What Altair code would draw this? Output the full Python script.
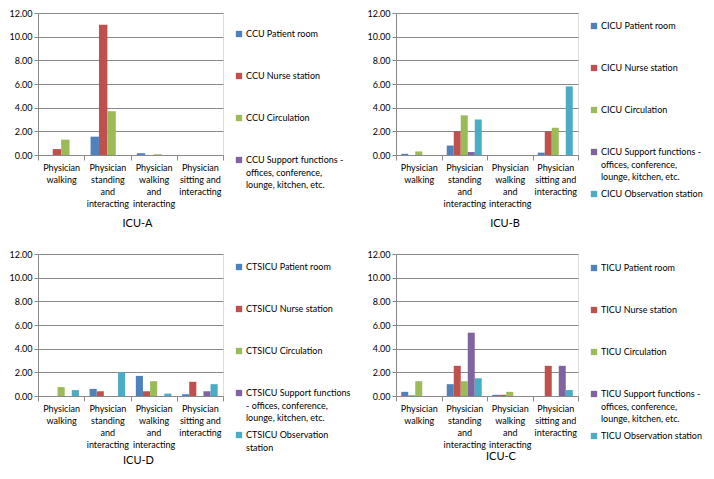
import altair as alt
import pandas as pd

# ---------------- data ----------------
categories = [
    "Physician walking",
    "Physician standing and interacting",
    "Physician walking and interacting",
    "Physician sitting and interacting",
]
category_lines = [
    ["Physician", "walking"],
    ["Physician", "standing", "and", "interacting"],
    ["Physician", "walking", "and", "interacting"],
    ["Physician", "sitting and", "interacting"],
]
series = ["Patient room", "Nurse station", "Circulation", "Support functions", "Observation station"]
colors = ["#4F81BD", "#C0504D", "#9BBB59", "#8064A2", "#4BACC6"]

# ICU-A (CCU)
ccu_patient = [0.0, 1.55, 0.15, 0.0]
ccu_nurse = [0.5, 11.0, 0.0, 0.0]
ccu_circulation = [1.3, 3.7, 0.06, 0.0]
ccu_support = [0.0, 0.0, 0.0, 0.0]
ccu_legend = ["CCU Patient room", "CCU Nurse station", "CCU Circulation",
              "CCU Support functions -\noffices, conference,\nlounge, kitchen, etc."]

# ICU-B (CICU)
cicu_patient = [0.1, 0.8, 0.0, 0.2]
cicu_nurse = [0.0, 2.0, 0.0, 2.0]
cicu_circulation = [0.3, 3.35, 0.0, 2.3]
cicu_support = [0.0, 0.25, 0.0, 0.0]
cicu_observation = [0.0, 3.0, 0.0, 5.8]
cicu_legend = ["CICU Patient room", "CICU Nurse station", "CICU Circulation",
               "CICU Support functions -\noffices, conference,\nlounge, kitchen, etc.",
               "CICU Observation station"]

# ICU-D (CTSICU)
ctsicu_patient = [0.0, 0.6, 1.7, 0.15]
ctsicu_nurse = [0.0, 0.4, 0.4, 1.2]
ctsicu_circulation = [0.75, 0.0, 1.25, 0.0]
ctsicu_support = [0.0, 0.0, 0.0, 0.4]
ctsicu_observation = [0.5, 2.0, 0.2, 1.0]
ctsicu_legend = ["CTSICU Patient room", "CTSICU Nurse station", "CTSICU Circulation",
                 "CTSICU Support functions\n- offices, conference,\nlounge, kitchen, etc.",
                 "CTSICU Observation\nstation"]

# ICU-C (TICU)
ticu_patient = [0.35, 1.0, 0.1, 0.0]
ticu_nurse = [0.05, 2.55, 0.1, 2.55]
ticu_circulation = [1.25, 1.25, 0.35, 0.0]
ticu_support = [0.0, 5.35, 0.0, 2.55]
ticu_observation = [0.0, 1.5, 0.0, 0.5]
ticu_legend = ["TICU Patient room", "TICU Nurse station", "TICU Circulation",
               "TICU Support functions -\noffices, conference,\nlounge, kitchen, etc.",
               "TICU Observation station"]

# ---------------- styling ----------------
FONT = "Lato"
GRAY = "#8a8a8a"
H = 142
label_expr = "{}[indexof({}, datum.value)]".format(category_lines, categories)


def panel(values, legend_labels, title, W, legend_top, title_dx, title_offset):
    ser = series[:len(values)]
    rows = []
    for si, s in enumerate(ser):
        for ci, c in enumerate(categories):
            rows.append({"category": c, "series": s, "value": values[si][ci]})
    df = pd.DataFrame(rows)
    color = alt.Color("series:N", scale=alt.Scale(domain=series, range=colors), legend=None)

    bars = alt.Chart(df).mark_bar().encode(
        x=alt.X("category:N", sort=categories,
                scale=alt.Scale(domain=categories, paddingInner=0, paddingOuter=0),
                axis=alt.Axis(title=None, labelAngle=0, labelExpr=label_expr,
                              labelFont=FONT, labelFontSize=9, labelColor="#000",
                              labelLineHeight=12, labelBaseline="top", labelPadding=3,
                              labelOverlap=False, labelBound=False, labelLimit=0,
                              tickBand="extent", tickSize=5, tickColor=GRAY,
                              domainColor=GRAY, grid=False)),
        xOffset=alt.XOffset("series:N", sort=ser,
                            scale=alt.Scale(domain=ser, paddingInner=0, paddingOuter=0.75)),
        y=alt.Y("value:Q", scale=alt.Scale(domain=[0, 12], nice=False, zero=True),
                axis=alt.Axis(title=None, values=[0, 2, 4, 6, 8, 10, 12], format=".2f",
                              labelFont=FONT, labelFontSize=9, labelColor="#000",
                              labelPadding=2, tickSize=4, tickColor=GRAY,
                              domainColor=GRAY, grid=True, gridColor=GRAY)),
        color=color,
    )

    leg = pd.DataFrame({"row": list(range(len(ser))), "series": ser, "label": legend_labels})
    ly = alt.Y("row:Q", scale=alt.Scale(domain=[0, 4], range=[legend_top, legend_top + 4 * 42]),
               axis=None)
    squares = alt.Chart(leg).mark_square(size=40, opacity=1).encode(
        x=alt.value(W + 16), y=ly, color=color)
    texts = alt.Chart(leg).mark_text(align="left", baseline="alphabetic", dy=3,
                                     lineBreak="\n", lineHeight=12.5,
                                     font=FONT, fontSize=9, color="#000").encode(
        x=alt.value(W + 23), y=ly, text="label:N")

    return alt.layer(bars, squares, texts).resolve_scale(y="independent").properties(
        width=W, height=H,
        title=alt.TitleParams(title, orient="bottom", anchor="middle", font=FONT,
                              fontSize=11, fontWeight="normal", color="#000",
                              dx=title_dx, offset=title_offset),
    )


a = panel([ccu_patient, ccu_nurse, ccu_circulation, ccu_support], ccu_legend,
          "ICU-A", 185, 21, 7, 10)
b = panel([cicu_patient, cicu_nurse, cicu_circulation, cicu_support, cicu_observation],
          cicu_legend, "ICU-B", 182, 13, 18, 10)
d = panel([ctsicu_patient, ctsicu_nurse, ctsicu_circulation, ctsicu_support, ctsicu_observation],
          ctsicu_legend, "ICU-D", 185, 13, 8, 2)
c = panel([ticu_patient, ticu_nurse, ticu_circulation, ticu_support, ticu_observation],
          ticu_legend, "ICU-C", 182, 14, 14, 2)

chart = alt.concat(a, b, d, c, columns=2, bounds="flush",
                   spacing=alt.RowColnumber(row=99, column=173)).resolve_scale(
    x="independent", y="independent", xOffset="independent"
).configure_view(stroke=None).configure(background="white", padding=0)

chart.save("out.html", embed_options={"renderer": "svg", "actions": False})
